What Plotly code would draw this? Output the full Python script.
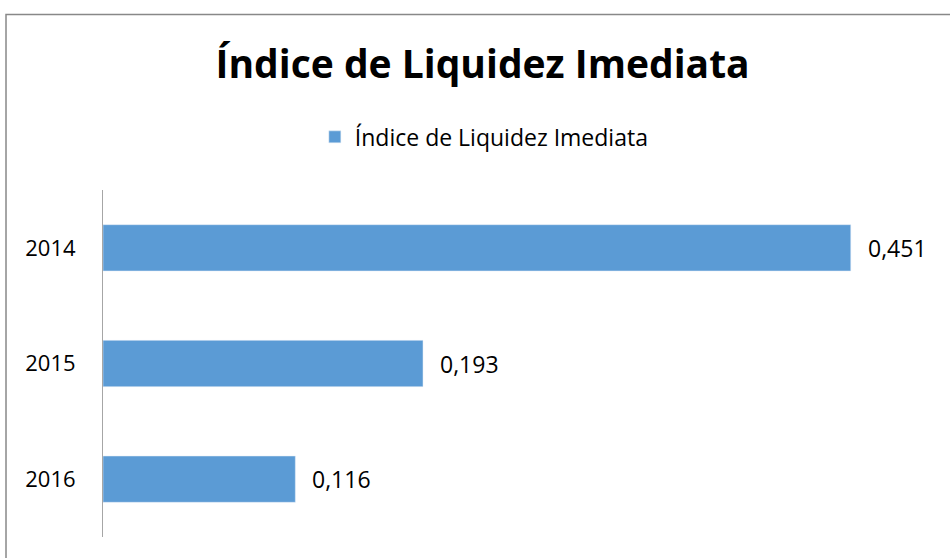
# Imports
import plotly.graph_objects as go

# Data
anos = ["2014", "2015", "2016"]
indice = [0.451, 0.193, 0.116]
rotulos = ["0,451", "0,193", "0,116"]
serie = "Índice de Liquidez Imediata"

fonte = "Open Sans"
azul = "#5B9BD5"

fig = go.Figure()
fig.add_trace(go.Bar(
    y=anos,
    x=indice,
    orientation="h",
    name=serie,
    marker=dict(color=azul),
    showlegend=True,
))

# Data labels to the right of each bar
# (category positions are given by index, as numeric-looking names would be read as numbers)
for i, (val, txt) in enumerate(zip(indice, rotulos)):
    fig.add_annotation(
        x=val, y=i, text=txt, showarrow=False,
        xanchor="left", xshift=15,
        font=dict(family=fonte, size=23, color="#000000"),
    )

# Outer chart border (partly outside the visible window)
fig.add_shape(
    type="rect", xref="paper", yref="paper",
    x0=-0.117, x1=1.2, y0=-0.3, y1=1.506,
    line=dict(color="#888888", width=1.5),
    fillcolor="rgba(0,0,0,0)", layer="below",
)

fig.update_layout(
    width=950,
    height=558,
    margin=dict(l=103, r=18, t=190, b=21, autoexpand=False),
    paper_bgcolor="white",
    plot_bgcolor="white",
    bargap=0.6,
    title=dict(
        text="<b>" + serie + "</b>",
        x=0.508, xanchor="center",
        y=0.884, yanchor="middle",
        font=dict(family=fonte, size=39, color="#000000"),
    ),
    legend=dict(
        orientation="h",
        x=0.46, xanchor="center",
        y=1.153, yanchor="middle",
        font=dict(family=fonte, size=23, color="#000000"),
    ),
    xaxis=dict(
        range=[0, 0.5],
        visible=False,
    ),
    yaxis=dict(
        type="category",
        range=[2.5, -0.5],
        automargin=False,
        showline=True,
        linecolor="#A6A6A6",
        linewidth=1,
        ticks="",
        ticklabelstandoff=22,
        tickfont=dict(family=fonte, size=22, color="#000000"),
        showgrid=False,
        zeroline=False,
    ),
)

# drop the browser's default page margin so the figure sits at the window corner
fig.write_html("out.html", config={"displayModeBar": False},
               post_script="document.body.style.margin='0';")
